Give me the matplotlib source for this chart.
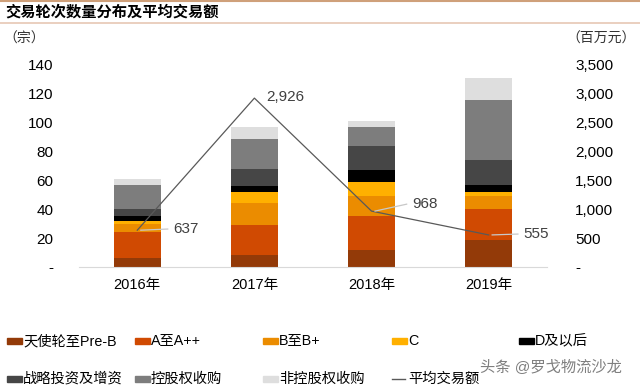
import matplotlib

matplotlib.use("Agg")
import matplotlib.pyplot as plt
from matplotlib.lines import Line2D
from matplotlib.patches import Rectangle
import numpy as np

plt.rcParams["font.family"] = ["Liberation Sans", "Noto Sans CJK SC"]

YEARS = ["2016年", "2017年", "2018年", "2019年"]
SERIES = ["天使轮至Pre-B", "A至A++", "B至B+", "C", "D及以后",
          "战略投资及增资", "控股权收购", "非控股权收购"]
COLORS = ["#933A08", "#D04A02", "#EB8C00", "#FFB000", "#000000",
          "#464646", "#7D7D7D", "#DEDEDE"]

# deal counts per round (stack order bottom -> top)
angel = [6, 8, 12, 19]
a_round = [18, 21, 23, 21]
b_round = [6, 15, 14, 9]
c_round = [2, 8, 10, 3]
d_round = [3, 4, 8, 5]
strategic = [5, 12, 17, 17]
control = [17, 21, 13, 42]
non_control = [4, 8, 4, 15]
COUNTS = [angel, a_round, b_round, c_round, d_round, strategic, control, non_control]

avg_amount = [637, 2926, 968, 555]
LINE_COLOR = "#595959"

fig = plt.figure(figsize=(6.4, 3.88), dpi=100)
ax = fig.add_axes([0.123, 0.312, 0.732, 0.5205])

x = np.arange(len(YEARS))
bottom = np.zeros(len(YEARS))
for vals, color in zip(COUNTS, COLORS):
    ax.bar(x, vals, bottom=bottom, width=0.4, color=color, linewidth=0)
    bottom += np.array(vals)

ax.set_xlim(-0.5, 3.5)
ax.set_ylim(0, 140)
ax.set_yticks(range(0, 141, 20))
ax.set_yticklabels(["-"] + [str(v) for v in range(20, 141, 20)], fontsize=11)
ax.set_xticks(x)
ax.set_xticklabels(YEARS, fontsize=10.5)
ax.tick_params(length=0, colors="#000000")
ax.tick_params(axis="y", pad=18)
ax.tick_params(axis="x", pad=8)
for side in ["top", "left", "right"]:
    ax.spines[side].set_visible(False)
ax.spines["bottom"].set_color("#D9D9D9")

ax2 = ax.twinx()
ax2.set_ylim(0, 3500)
ax2.plot(x, avg_amount, color=LINE_COLOR, linewidth=0.9)
ax2.set_yticks(range(0, 3501, 500))
ax2.set_yticklabels(["-"] + [f"{v:,}" for v in range(500, 3501, 500)], fontsize=11)
ax2.tick_params(length=0, pad=20)
for side in ["top", "left", "right", "bottom"]:
    ax2.spines[side].set_visible(False)

# data labels with leader lines
label_off = [(0.31, 20), (0.1, 25), (0.35, 120), (0.3, 15)]
for i, (dx, dy) in enumerate(label_off):
    tx, ty = x[i] + dx, avg_amount[i] + dy
    if i != 1:
        ax2.plot([x[i] + 0.03, tx - 0.05], [avg_amount[i], ty], color="#C8C8C8", linewidth=0.9)
    ax2.text(tx, ty, f"{avg_amount[i]:,}", fontsize=11, color="#404040",
             ha="left", va="center")

# header
fig.add_artist(Line2D([0, 1], [0.997, 0.997], color="#CFA07A", linewidth=1.5))
fig.add_artist(Line2D([0, 1], [0.940, 0.940], color="#E6C7B4", linewidth=1.2))
fig.text(0.008, 0.968, "交易轮次数量分布及平均交易额", fontsize=11, fontweight="bold",
         va="center", ha="left")
fig.text(0.006, 1 - 39 / 388, "（宗）", fontsize=10, va="center", ha="left", color="#333333")
fig.text(0.994, 1 - 39 / 388, "（百万元）", fontsize=10, va="center", ha="right", color="#333333")

# legend
col_x = [7 / 640, 135 / 640, 263 / 640, 392 / 640, 519 / 640]
rows_y = [1 - 341 / 388, 1 - 379 / 388]
for k, (name, color) in enumerate(zip(SERIES, COLORS)):
    r, c = divmod(k, 5)
    lx, ly = col_x[c], rows_y[r]
    fig.add_artist(Rectangle((lx, ly - 0.008), 15 / 640, 0.016, color=color,
                             transform=fig.transFigure))
    fig.text(lx + 16 / 640, ly, name, fontsize=10.3, va="center", ha="left")
lx, ly = col_x[3], rows_y[1]
fig.add_artist(Line2D([lx, lx + 13 / 640], [ly, ly], color=LINE_COLOR, linewidth=1))
fig.text(lx + 16 / 640, ly, "平均交易额", fontsize=10.3, va="center", ha="left")

fig.text(480 / 640, 1 - 368 / 388, "头条 @罗戈物流沙龙", fontsize=11, color="#7F7F7F",
         va="center", ha="left")

fig.savefig("out.png", dpi=100)
